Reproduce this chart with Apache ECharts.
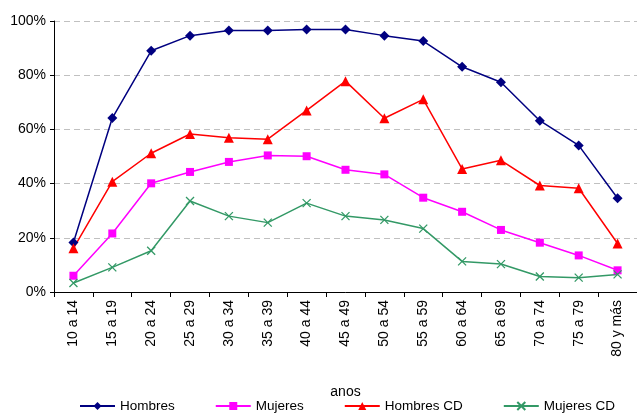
<!DOCTYPE html>
<html><head><meta charset="utf-8">
<script src="https://cdn.jsdelivr.net/npm/echarts@6/dist/echarts.min.js"></script>
<style>html,body{margin:0;padding:0;background:#fff}#c{width:637px;height:413px}</style>
</head><body><div id="c"></div>
<script>
const categories = ['10 a 14','15 a 19','20 a 24','25 a 29','30 a 34','35 a 39','40 a 44','45 a 49','50 a 54','55 a 59','60 a 64','65 a 69','70 a 74','75 a 79','80 y más'];
const hombres = [18.3,64.2,89.0,94.6,96.5,96.5,96.9,96.9,94.6,92.6,83.1,77.4,63.2,54.1,34.6];
const mujeres = [6.0,21.6,40.1,44.3,48.0,50.4,50.1,45.1,43.4,34.8,29.6,22.9,18.2,13.5,8.0];
const hombresCD = [16.1,40.7,51.2,58.3,56.9,56.4,67.0,77.8,64.1,71.1,45.4,48.6,39.3,38.3,17.9];
const mujeresCD = [3.3,9.1,15.2,33.6,28.0,25.6,32.8,28.0,26.6,23.4,11.3,10.3,5.7,5.3,6.5];
const yTicks = [0,20,40,60,80,100];

const font = 'Liberation Sans, Arial, sans-serif';
const chart = echarts.init(document.getElementById('c'));
chart.setOption({
  animation: false,
  textStyle: {fontFamily: font},
  grid: {left: 54, top: 21, right: -4, bottom: 121, containLabel: false},
  legend: {
    left: 79, top: 399, itemGap: 40, itemWidth: 35, itemHeight: 10, padding: 0,
    textStyle: {fontFamily: font, fontSize: 13.5, color: '#000'},
    data: ['Hombres','Mujeres','Hombres CD','Mujeres CD']
  },
  xAxis: {
    type: 'category', data: categories, boundaryGap: true,
    name: 'anos', nameLocation: 'middle', nameGap: 93,
    nameTextStyle: {fontFamily: font, fontSize: 14, color: '#000'},
    axisLine: {lineStyle: {color: '#000', width: 1}},
    axisTick: {show: true, length: 5, alignWithLabel: false, lineStyle: {color: '#000'}},
    axisLabel: {rotate: 90, margin: 8, fontFamily: font, fontSize: 14, color: '#000', interval: 0}
  },
  yAxis: {
    type: 'value', min: yTicks[0], max: yTicks[yTicks.length-1], interval: 20,
    axisLine: {show: true, lineStyle: {color: '#000', width: 1}},
    axisTick: {show: true, length: 4, lineStyle: {color: '#000'}},
    axisLabel: {formatter: '{value}%', fontFamily: font, fontSize: 14, color: '#000', margin: 8},
    splitLine: {show: true, lineStyle: {color: '#c0c0c0', type: [6,4], width: 1}}
  },
  series: [
    {name: 'Hombres', type: 'line', data: hombres, symbol: 'diamond', symbolSize: 10,
     color: '#000080', lineStyle: {width: 1.5, color: '#000080'}, itemStyle: {color: '#000080'}},
    {name: 'Mujeres', type: 'line', data: mujeres, symbol: 'rect', symbolSize: 8,
     color: '#ff00ff', lineStyle: {width: 1.5, color: '#ff00ff'}, itemStyle: {color: '#ff00ff'}},
    {name: 'Hombres CD', type: 'line', data: hombresCD, symbol: 'triangle', symbolSize: 10,
     color: '#ff0000', lineStyle: {width: 1.5, color: '#ff0000'}, itemStyle: {color: '#ff0000'}},
    {name: 'Mujeres CD', type: 'line', data: mujeresCD, symbol: 'path://M0,0L10,10M10,0L0,10', symbolSize: 8,
     color: '#339966', lineStyle: {width: 1.5, color: '#339966'},
     itemStyle: {color: 'rgba(0,0,0,0)', borderColor: '#339966', borderWidth: 1.3}}
  ]
});
</script></body></html>
